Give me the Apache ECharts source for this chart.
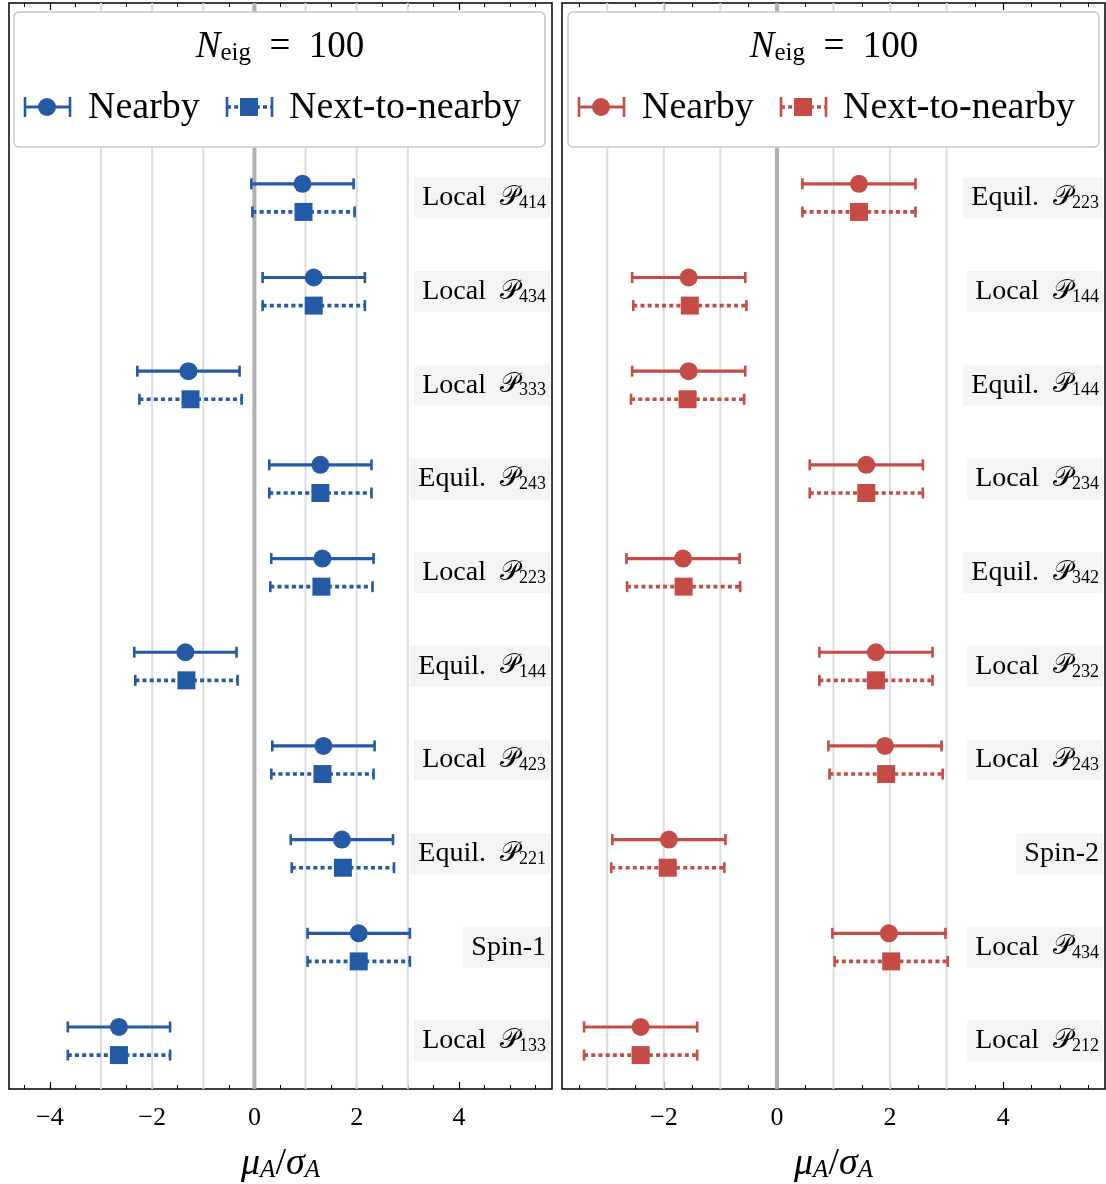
<!DOCTYPE html>
<html>
<head>
<meta charset="utf-8">
<script src="https://cdn.jsdelivr.net/npm/echarts@6/dist/echarts.min.js"></script>
<style>
html, body, #main { margin: 0; padding: 0; width: 1106px; height: 1184px; overflow: hidden; background: #fff; }
</style>
</head>
<body>
<div id="main"></div>
<script>
// rows listed top to bottom
const leftKinds = ["Local", "Local", "Local", "Equil.", "Local", "Equil.", "Local", "Equil.", "Spin-1", "Local"];
const leftSubs = ["414", "434", "333", "243", "223", "144", "423", "221", "", "133"];
const leftNearby = [0.94, 1.16, -1.29, 1.29, 1.33, -1.35, 1.35, 1.71, 2.04, -2.65];
const leftNext = [0.96, 1.16, -1.25, 1.29, 1.31, -1.33, 1.33, 1.73, 2.04, -2.65];

const rightKinds = ["Equil.", "Local", "Equil.", "Local", "Equil.", "Local", "Local", "Spin-2", "Local", "Local"];
const rightSubs = ["223", "144", "144", "234", "342", "232", "243", "", "434", "212"];
const rightNearby = [1.45, -1.56, -1.56, 1.58, -1.66, 1.75, 1.91, -1.91, 1.98, -2.41];
const rightNext = [1.45, -1.54, -1.58, 1.58, -1.65, 1.75, 1.93, -1.93, 2.02, -2.41];

const errorBar = 1.0;
const majorTicks = [-4, -2, 0, 2, 4];
const leftMinor = [-4.5, -3.5, -3, -2.5, -1.5, -1, -0.5, 0.5, 1, 1.5, 2.5, 3, 3.5, 4.5, 5, 5.5];
const rightMinor = [-3.5, -3, -2.5, -1.5, -1, -0.5, 0.5, 1, 1.5, 2.5, 3, 3.5, 4.5, 5, 5.5];
const gridValues = [-3, -2, -1, 0, 1, 2, 3];

const FONT = "'Liberation Serif', 'DejaVu Serif', serif";
const BLUE = "#2459a6";
const RED = "#c44b46";
const Y_MIN = -0.512, Y_MAX = 11.08;
const OFF = 0.15; // vertical offset of the two markers around the row centre

let myChart = echarts.init(document.getElementById("main"), null, { renderer: "canvas" });

function fmt(v) {
  return v < 0 ? "\u2212" + Math.abs(v) : String(v);
}

function barRenderer(color, dashed) {
  return function (params, api) {
    const x = api.value(0), y = api.value(1), e = api.value(2);
    const a = api.coord([x - e, y]);
    const b = api.coord([x + e, y]);
    const h = 5.5;
    const st = { stroke: color, lineWidth: 3.2 };
    if (dashed) { st.lineWidth = 3.6; st.lineDash = [4, 3.2]; }
    const cap = { stroke: color, lineWidth: 2.6 };
    return {
      type: "group",
      children: [
        { type: "line", shape: { x1: a[0], y1: a[1], x2: b[0], y2: b[1] }, style: st },
        { type: "line", shape: { x1: a[0], y1: a[1] - h, x2: a[0], y2: a[1] + h }, style: cap },
        { type: "line", shape: { x1: b[0], y1: b[1] - h, x2: b[0], y2: b[1] + h }, style: cap },
      ],
    };
  };
}

function gridRenderer(params, api) {
  const v = api.value(0);
  const p0 = api.coord([v, Y_MIN]);
  const p1 = api.coord([v, Y_MAX]);
  return {
    type: "line",
    shape: { x1: p0[0], y1: p0[1], x2: p1[0], y2: p1[1] },
    style: { stroke: v === 0 ? "#b0b0b0" : "#dcdcdc", lineWidth: v === 0 ? 4 : 2 },
  };
}

function labelRenderer(kinds, subs) {
  return function (params, api) {
    const k = params.dataIndex;
    const pt = api.coord([api.value(0), api.value(1)]);
    const txt = subs[k] ? kinds[k] + "  {p|\uD835\uDCAB}{s|" + subs[k] + "}" : kinds[k];
    return {
      type: "text",
      x: pt[0] - 2,
      y: pt[1],
      style: {
        text: txt,
        align: "right",
        verticalAlign: "middle",
        fill: "#000",
        fontFamily: FONT,
        fontSize: 28,
        lineHeight: 29,
        backgroundColor: "#f4f4f4",
        padding: [6, 4, 6, 8],
        rich: {
          p: { fontFamily: FONT, fontSize: 27, lineHeight: 29 },
          s: { fontFamily: FONT, fontSize: 18, lineHeight: 18, verticalAlign: "bottom" },
        },
      },
    };
  };
}

function makePanel(p, xMin, xMax, minor, kinds, subs, nearby, next, color) {
  const base = {
    type: "value", gridIndex: p, min: xMin, max: xMax,
    axisLine: { show: false, onZero: false }, splitLine: { show: false }, axisLabel: { show: false },
  };
  const tickMajor = { show: true, inside: true, length: 7, customValues: majorTicks, lineStyle: { color: "#000", width: 1.2 } };
  const tickMinor = { show: true, inside: true, length: 4, customValues: minor, lineStyle: { color: "#000", width: 1 } };
  const xAxes = [
    Object.assign({}, base, {
      position: "bottom",
      axisTick: tickMajor,
      axisLabel: { show: true, customValues: majorTicks, formatter: fmt, fontFamily: FONT, fontSize: 26, color: "#000", margin: 16 },
      name: "{i|\u03bc}{s|A}{n|/}{i|\u03c3}{s|A}",
      nameLocation: "middle",
      nameGap: 56,
      nameTextStyle: {
        color: "#000",
        rich: {
          i: { fontFamily: FONT, fontSize: 38, fontStyle: "italic", lineHeight: 38 },
          n: { fontFamily: FONT, fontSize: 38, lineHeight: 38 },
          s: { fontFamily: FONT, fontSize: 25, fontStyle: "italic", lineHeight: 25, verticalAlign: "bottom" },
        },
      },
    }),
    Object.assign({}, base, { position: "bottom", axisTick: tickMinor }),
    Object.assign({}, base, { position: "top", axisTick: tickMajor }),
    Object.assign({}, base, { position: "top", axisTick: tickMinor }),
  ];
  const yAxis = { type: "value", gridIndex: p, min: Y_MIN, max: Y_MAX, show: false, axisLine: { onZero: false } };
  const xi = p * 4;
  const n = kinds.length;
  const series = [
    {
      type: "custom", xAxisIndex: xi, yAxisIndex: p, z: 1, silent: true,
      renderItem: gridRenderer,
      data: gridValues.map((v) => [v, 0]),
    },
    {
      type: "custom", xAxisIndex: xi, yAxisIndex: p, z: 3,
      renderItem: barRenderer(color, false),
      encode: { x: 0, y: 1 },
      data: nearby.map((v, k) => [v, n - 1 - k + OFF, errorBar]),
    },
    {
      type: "custom", xAxisIndex: xi, yAxisIndex: p, z: 3,
      renderItem: barRenderer(color, true),
      encode: { x: 0, y: 1 },
      data: next.map((v, k) => [v, n - 1 - k - OFF, errorBar]),
    },
    {
      type: "scatter", xAxisIndex: xi, yAxisIndex: p, z: 4,
      symbol: "circle", symbolSize: 18,
      itemStyle: { color: color, opacity: 1 },
      data: nearby.map((v, k) => [v, n - 1 - k + OFF]),
    },
    {
      type: "scatter", xAxisIndex: xi, yAxisIndex: p, z: 4,
      symbol: "rect", symbolSize: 18,
      itemStyle: { color: color, opacity: 1 },
      data: next.map((v, k) => [v, n - 1 - k - OFF]),
    },
    {
      type: "custom", xAxisIndex: xi, yAxisIndex: p, z: 5,
      renderItem: labelRenderer(kinds, subs),
      data: kinds.map((s, k) => [xMax, n - 1 - k]),
    },
  ];
  return { xAxes, yAxis, series };
}

function legendGraphic(dx, color) {
  const y = 107;
  const cap = { stroke: color, lineWidth: 2.6 };
  return [
    { type: "rect", z: 100, shape: { x: 14 + dx, y: 12, width: 531, height: 135, r: 5 }, style: { fill: "#fff", stroke: "#c8c8c8", lineWidth: 1.5 } },
    {
      type: "text", z: 101, x: 280 + dx, y: 47,
      style: {
        text: "{i|N}{s|eig}{n|  =  100}", align: "center", verticalAlign: "middle",
        rich: {
          i: { fontFamily: FONT, fontSize: 37, fontStyle: "italic", lineHeight: 38, fill: "#000" },
          n: { fontFamily: FONT, fontSize: 37, lineHeight: 38, fill: "#000" },
          s: { fontFamily: FONT, fontSize: 25, lineHeight: 25, verticalAlign: "bottom", fill: "#000" },
        },
      },
    },
    { type: "line", z: 101, shape: { x1: 25 + dx, y1: y, x2: 70 + dx, y2: y }, style: { stroke: color, lineWidth: 3.2 } },
    { type: "line", z: 101, shape: { x1: 25 + dx, y1: y - 10, x2: 25 + dx, y2: y + 10 }, style: cap },
    { type: "line", z: 101, shape: { x1: 70 + dx, y1: y - 10, x2: 70 + dx, y2: y + 10 }, style: cap },
    { type: "circle", z: 102, shape: { cx: 47 + dx, cy: y, r: 9 }, style: { fill: color } },
    { type: "text", z: 101, x: 88 + dx, y: y + 1, style: { text: "Nearby", fontFamily: FONT, fontSize: 38, fill: "#000", align: "left", verticalAlign: "middle" } },
    { type: "line", z: 101, shape: { x1: 227 + dx, y1: y, x2: 272 + dx, y2: y }, style: { stroke: color, lineWidth: 3.6, lineDash: [4, 3.2] } },
    { type: "line", z: 101, shape: { x1: 227 + dx, y1: y - 10, x2: 227 + dx, y2: y + 10 }, style: cap },
    { type: "line", z: 101, shape: { x1: 272 + dx, y1: y - 10, x2: 272 + dx, y2: y + 10 }, style: cap },
    { type: "rect", z: 102, shape: { x: 240 + dx, y: y - 9, width: 18, height: 18 }, style: { fill: color } },
    { type: "text", z: 101, x: 289 + dx, y: y + 1, style: { text: "Next-to-nearby", fontFamily: FONT, fontSize: 38, fill: "#000", align: "left", verticalAlign: "middle" } },
  ];
}

const left = makePanel(0, -4.8, 5.82, leftMinor, leftKinds, leftSubs, leftNearby, leftNext, BLUE);
const right = makePanel(1, -3.8, 5.8, rightMinor, rightKinds, rightSubs, rightNearby, rightNext, RED);

myChart.setOption({
  backgroundColor: "#fff",
  animation: false,
  grid: [
    { left: 9, right: 554, top: 3, bottom: 95, outerBoundsMode: "none", containLabel: false, show: true, borderColor: "#000", borderWidth: 1.5, backgroundColor: "transparent" },
    { left: 562, right: 1, top: 3, bottom: 95, outerBoundsMode: "none", containLabel: false, show: true, borderColor: "#000", borderWidth: 1.5, backgroundColor: "transparent" },
  ],
  xAxis: left.xAxes.concat(right.xAxes),
  yAxis: [left.yAxis, right.yAxis],
  series: left.series.concat(right.series),
  graphic: legendGraphic(0, BLUE).concat(legendGraphic(554, RED)),
});

window.onresize = myChart.resize;
</script>
</body>
</html>
